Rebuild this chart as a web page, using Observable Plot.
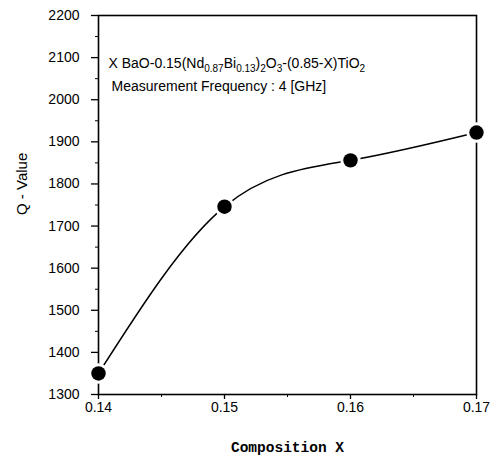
<!DOCTYPE html>
<html>
<head>
<meta charset="utf-8">
<script src="https://cdn.jsdelivr.net/npm/d3@7"></script>
<script src="https://cdn.jsdelivr.net/npm/@observablehq/plot@0.6"></script>
<style>
  html, body { margin: 0; padding: 0; background: #fff; }
  #chart svg { display: block; }
</style>
</head>
<body>
<div id="chart"></div>
<script>
const compX = [0.14, 0.15, 0.16, 0.17];
const qValue = [1350, 1746, 1856, 1922];
const xTicks = [0.14, 0.15, 0.16, 0.17];
const xMinorTicks = [0.145, 0.155, 0.165];
const yTicks = [1300, 1400, 1500, 1600, 1700, 1800, 1900, 2000, 2100, 2200];
const yMinorTicks = [1350, 1450, 1550, 1650, 1750, 1850, 1950, 2050, 2150];
const titleParts = [
  ["X BaO-0.15(Nd", 0], ["0.87", 1], ["Bi", 0], ["0.13", 1], [")", 0], ["2", 1],
  ["O", 0], ["3", 1], ["-(0.85-X)TiO", 0], ["2", 1]
];
const subtitle = "Measurement Frequency : 4 [GHz]";
const xLabel = "Composition X";
const yLabel = "Q - Value";

const data = compX.map((x, i) => ({x, q: qValue[i]}));

function subscriptRender(index, scales, values, dims, ctx, next) {
  const g = next(index, scales, values, dims, ctx);
  const t = g.querySelector("text");
  if (t) {
    t.textContent = "";
    let prev = 0;
    for (const [s, sub] of titleParts) {
      const ts = document.createElementNS("http://www.w3.org/2000/svg", "tspan");
      ts.textContent = s;
      const shift = sub ? 4 : 0;
      if (shift !== prev) ts.setAttribute("dy", shift - prev);
      if (sub) ts.setAttribute("font-size", "10");
      prev = shift;
      t.appendChild(ts);
    }
  }
  return g;
}

const chart = Plot.plot({
  width: 500,
  height: 456,
  marginLeft: 98,
  marginRight: 24,
  marginTop: 15,
  marginBottom: 62,
  style: {fontFamily: "Liberation Sans, Arial, sans-serif", fontSize: "14px", color: "#000", background: "#fff"},
  x: {type: "linear", domain: [0.14, 0.17]},
  y: {type: "linear", domain: [1300, 2200]},
  marks: [
    Plot.frame({stroke: "#000", strokeWidth: 1.6}),
    Plot.axisX({ticks: xTicks, tickSize: 5, tickPadding: 3, tickFormat: d3.format(".2f"), label: null, fontSize: 14, stroke: "#000", strokeWidth: 1.3}),
    Plot.axisX({ticks: xMinorTicks, tickSize: 3, tickFormat: () => "", label: null, stroke: "#000"}),
    Plot.axisY({ticks: yTicks, tickSize: 7, tickPadding: 12, tickFormat: d3.format("d"), label: null, fontSize: 14, stroke: "#000", strokeWidth: 1.3}),
    Plot.axisY({ticks: yMinorTicks, tickSize: 3, tickFormat: () => "", label: null, stroke: "#000"}),
    Plot.line(data, {x: "x", y: "q", curve: "natural", stroke: "#000", strokeWidth: 1.5}),
    Plot.dot(data, {x: "x", y: "q", r: 7.2, fill: "#000", stroke: "#fff", strokeWidth: 6}),
    Plot.dot(data, {x: "x", y: "q", r: 7.2, fill: "#000"}),
    Plot.text([titleParts.map(p => p[0]).join("")], {frameAnchor: "top-left", dx: 10, dy: 52, lineAnchor: "bottom", fontSize: 14, fill: "#000", render: subscriptRender}),
    Plot.text([subtitle], {frameAnchor: "top-left", dx: 13, dy: 75, lineAnchor: "bottom", fontSize: 14, fill: "#000"}),
    Plot.text([yLabel], {frameAnchor: "left", rotate: -90, dx: -76, dy: 10, fontSize: 15, fill: "#000"}),
    Plot.text([xLabel], {frameAnchor: "bottom", dx: 0, dy: 57, lineAnchor: "bottom", fontSize: 14.5, fontWeight: "bold", fontFamily: "Liberation Mono, Courier New, monospace", fill: "#000"})
  ]
});
document.getElementById("chart").appendChild(chart);
</script>
</body>
</html>
